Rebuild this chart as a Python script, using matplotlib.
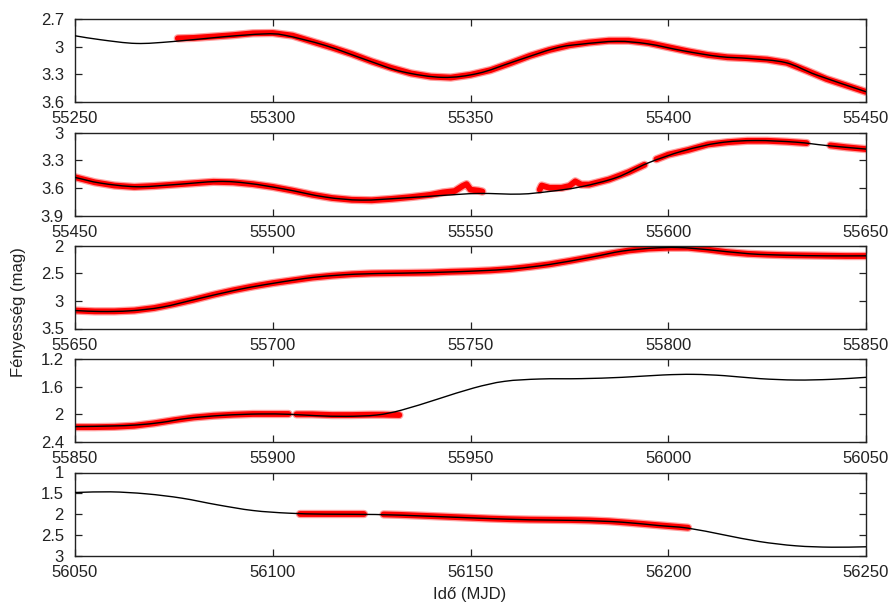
import matplotlib
matplotlib.use("Agg")
import matplotlib.pyplot as plt
import numpy as np
from matplotlib.path import Path
from matplotlib.patches import PathPatch
from matplotlib.ticker import FixedLocator, FuncFormatter

plt.rcParams['font.family'] = ['Liberation Sans', 'DejaVu Sans']

# ---- model light curve (fit), magnitude vs MJD ----
fit_t1 = [55250, 55256.5, 55265.5, 55274.6, 55287.5, 55297.8, 55303, 55313.3, 55323.7, 55332.7,
          55343, 55352, 55361, 55371.5, 55378, 55387, 55394.8, 55403.8, 55412.9, 55420.6,
          55429.7, 55437.5, 55450]
fit_m1 = [2.882, 2.925, 2.965, 2.945, 2.893, 2.862, 2.876, 2.987, 3.144, 3.271,
          3.333, 3.289, 3.162, 3.016, 2.973, 2.942, 2.969, 3.045, 3.107, 3.129,
          3.173, 3.307, 3.489]

fit_t2 = [55450, 55456.5, 55465.5, 55474.6, 55486.2, 55494, 55503, 55513.3, 55522.4, 55532.7,
          55543, 55552, 55562.5, 55570, 55578, 55587, 55594.8, 55603.8, 55612.9, 55622,
          55632.3, 55640, 55650]
fit_m2 = [3.487, 3.549, 3.588, 3.567, 3.531, 3.552, 3.614, 3.700, 3.733, 3.711,
          3.682, 3.661, 3.668, 3.639, 3.588, 3.487, 3.332, 3.199, 3.112, 3.087,
          3.105, 3.141, 3.180]

fit_t3 = [55650, 55656.5, 55664, 55672, 55681, 55691.4, 55700.4, 55710.8, 55721, 55732.7,
          55743, 55752, 55761, 55770, 55780.6, 55788.3, 55796, 55802.5, 55810.3, 55820.6,
          55829.7, 55840, 55850]
fit_m3 = [3.175, 3.193, 3.180, 3.114, 2.964, 2.795, 2.680, 2.572, 2.518, 2.500,
          2.482, 2.458, 2.420, 2.343, 2.210, 2.102, 2.048, 2.036, 2.078, 2.150,
          2.175, 2.187, 2.187]

fit_t4 = [55850, 55859, 55865.5, 55872, 55878.4, 55887.5, 55896.5, 55904.3, 55910.8, 55918.5,
          55926.3, 55932.7, 55941.8, 55950.8, 55958.6, 55967.6, 55978, 55988.3, 55998.7, 56006.4,
          56014.2, 56023.2, 56032.3, 56041.3, 56050]
fit_m4 = [2.178, 2.169, 2.154, 2.116, 2.058, 2.014, 1.995, 2.000, 2.019, 2.029,
          2.010, 1.937, 1.778, 1.619, 1.523, 1.489, 1.484, 1.465, 1.431, 1.422,
          1.441, 1.484, 1.504, 1.494, 1.465]

fit_t5 = [56050, 56059, 56068, 56077, 56086, 56095, 56104, 56113.3, 56126, 56139,
          56152, 56165, 56178, 56188.3, 56197.4, 56205, 56214, 56223, 56232.3, 56241.3,
          56250]
fit_m5 = [1.482, 1.466, 1.514, 1.618, 1.779, 1.916, 1.980, 2.004, 2.012, 2.052,
          2.100, 2.140, 2.157, 2.197, 2.277, 2.341, 2.502, 2.663, 2.767, 2.800,
          2.790]

# ---- observed photometry, split into observing runs ----
obs_t1 = [[55276, 55280, 55285, 55290, 55295, 55300, 55305, 55310, 55315, 55320, 55325, 55330,
           55335, 55340, 55345, 55350, 55355, 55360, 55365, 55370, 55375, 55380, 55385, 55390,
           55395, 55400, 55405, 55410, 55415, 55420, 55425, 55430, 55435, 55440, 55445, 55450]]
obs_m1 = [[2.91, 2.905, 2.89, 2.875, 2.855, 2.852, 2.88, 2.945, 3.01, 3.08, 3.16, 3.23,
           3.29, 3.325, 3.335, 3.305, 3.255, 3.18, 3.10, 3.035, 2.985, 2.955, 2.935, 2.935,
           2.96, 3.005, 3.05, 3.09, 3.115, 3.125, 3.14, 3.175, 3.26, 3.35, 3.42, 3.49]]

obs_t2 = [[55450, 55455, 55460, 55465, 55470, 55475, 55480, 55485, 55490, 55495, 55500, 55505,
           55510, 55515, 55520, 55525, 55530, 55535, 55540, 55543, 55546, 55548, 55549, 55550,
           55552, 55553],
          [55567.5, 55568, 55570, 55573, 55575, 55576.5, 55578, 55580, 55585, 55590, 55594],
          [55597, 55600, 55605, 55610, 55615, 55620, 55625, 55630, 55635],
          [55641, 55645, 55650]]
obs_m2 = [[3.485, 3.54, 3.575, 3.59, 3.58, 3.565, 3.55, 3.535, 3.54, 3.56, 3.59, 3.63,
           3.675, 3.71, 3.73, 3.735, 3.72, 3.70, 3.675, 3.65, 3.635, 3.58, 3.56, 3.62,
           3.63, 3.64],
          [3.62, 3.575, 3.60, 3.60, 3.58, 3.53, 3.565, 3.565, 3.51, 3.43, 3.35],
          [3.29, 3.24, 3.19, 3.13, 3.105, 3.09, 3.09, 3.10, 3.115],
          [3.14, 3.16, 3.18]]

obs_t3 = [[55650, 55655, 55660, 55665, 55670, 55675, 55680, 55685, 55690, 55695, 55700, 55705,
           55710, 55715, 55720, 55725, 55730, 55735, 55740, 55745, 55750, 55755, 55760, 55765,
           55770, 55775, 55780, 55785, 55790, 55795, 55800, 55805, 55810, 55815, 55820, 55825,
           55830, 55835, 55840, 55845, 55850]]
obs_m3 = [[3.175, 3.19, 3.19, 3.175, 3.13, 3.06, 2.98, 2.89, 2.81, 2.74, 2.68, 2.63,
           2.58, 2.545, 2.52, 2.505, 2.50, 2.495, 2.49, 2.475, 2.465, 2.45, 2.425, 2.385,
           2.34, 2.28, 2.215, 2.15, 2.09, 2.055, 2.04, 2.04, 2.075, 2.12, 2.15, 2.165,
           2.175, 2.18, 2.185, 2.19, 2.19]]

obs_t4 = [[55850, 55855, 55860, 55865, 55870, 55875, 55880, 55885, 55890, 55895, 55900, 55904],
          [55906, 55910, 55915, 55920, 55925, 55928, 55932]]
obs_m4 = [[2.185, 2.185, 2.18, 2.165, 2.13, 2.085, 2.045, 2.02, 2.005, 1.995, 1.995, 1.995],
          [2.0, 2.0, 2.01, 2.01, 2.005, 2.005, 2.01]]

obs_t5 = [[56107, 56110, 56114, 56118, 56121, 56123],
          [56128, 56132, 56136, 56140, 56145, 56150, 56155, 56160, 56165, 56170, 56175, 56180,
           56185, 56190, 56195, 56200, 56205]]
obs_m5 = [[2.0, 2.0, 2.0, 2.0, 2.0, 2.0],
          [2.01, 2.02, 2.035, 2.05, 2.07, 2.09, 2.11, 2.125, 2.135, 2.14, 2.145, 2.155,
           2.175, 2.21, 2.25, 2.29, 2.33]]

x_ranges = [(55250, 55450), (55450, 55650), (55650, 55850), (55850, 56050), (56050, 56250)]
y_ticks = [[2.7, 3.0, 3.3, 3.6], [3.0, 3.3, 3.6, 3.9], [2.0, 2.5, 3.0, 3.5],
           [1.2, 1.6, 2.0, 2.4], [1.0, 1.5, 2.0, 2.5, 3.0]]

fits = [(fit_t1, fit_m1), (fit_t2, fit_m2), (fit_t3, fit_m3), (fit_t4, fit_m4), (fit_t5, fit_m5)]
obs = [(obs_t1, obs_m1), (obs_t2, obs_m2), (obs_t3, obs_m3), (obs_t4, obs_m4), (obs_t5, obs_m5)]


def smooth_path(t, m):
    """Catmull-Rom curve through the fit samples, as cubic Bezier segments."""
    p = np.column_stack([t, m]).astype(float)
    ext = np.vstack([2 * p[0] - p[1], p, 2 * p[-1] - p[-2]])
    verts = [p[0]]
    codes = [Path.MOVETO]
    for i in range(1, len(ext) - 2):
        c1 = ext[i] + (ext[i + 1] - ext[i - 1]) / 6.0
        c2 = ext[i + 1] - (ext[i + 2] - ext[i]) / 6.0
        verts += [c1, c2, ext[i + 1]]
        codes += [Path.CURVE4] * 3
    return Path(verts, codes)


W, H = 893, 608
fig = plt.figure(figsize=(W / 100, H / 100), dpi=100)

left_px, right_px = 75, 866
panel_h = 83
tops = [19, 132.5, 245.5, 359, 472.5]

for k in range(5):
    top = tops[k]
    ax = fig.add_axes([left_px / W, 1 - (top + panel_h) / H, (right_px - left_px) / W, panel_h / H])

    for tt, mm in zip(*obs[k]):
        # soft outer halo plus solid core for the dense photometry band
        ax.plot(tt, mm, color='#ff6060', lw=6.0, solid_capstyle='round',
                solid_joinstyle='round', alpha=0.6, zorder=2)
        ax.plot(tt, mm, color='red', lw=4.2, solid_capstyle='round',
                solid_joinstyle='round', zorder=2)

    ft, fm = fits[k]
    ax.add_patch(PathPatch(smooth_path(ft, fm), fill=False, edgecolor='black', lw=1.0, zorder=3))

    x0, x1 = x_ranges[k]
    ax.set_xlim(x0, x1)
    yt = y_ticks[k]
    ax.set_ylim(yt[-1], yt[0])
    ax.xaxis.set_major_locator(FixedLocator(np.arange(x0, x1 + 1, 50)))
    ax.yaxis.set_major_locator(FixedLocator(yt))
    ax.yaxis.set_major_formatter(FuncFormatter(lambda v, pos: '%g' % v))
    ax.xaxis.set_major_formatter(FuncFormatter(lambda v, pos: '%d' % v))
    ax.tick_params(direction='in', length=5, width=0.9, top=True, right=True,
                   labelsize=12, colors='#222222')
    ax.tick_params(axis='x', pad=6.5)
    ax.tick_params(axis='y', pad=8)
    for s in ax.spines.values():
        s.set_linewidth(1.0)
        s.set_color('#222222')

fig.text(19 / W, 1 - 312 / H, 'Fényesség (mag)', rotation=90, ha='center', va='center',
         fontsize=12, color='#222222')
fig.text(470 / W, 1 - 594 / H, 'Idő (MJD)', ha='center', va='center',
         fontsize=12, color='#222222')

fig.savefig('out.png', dpi=100)
